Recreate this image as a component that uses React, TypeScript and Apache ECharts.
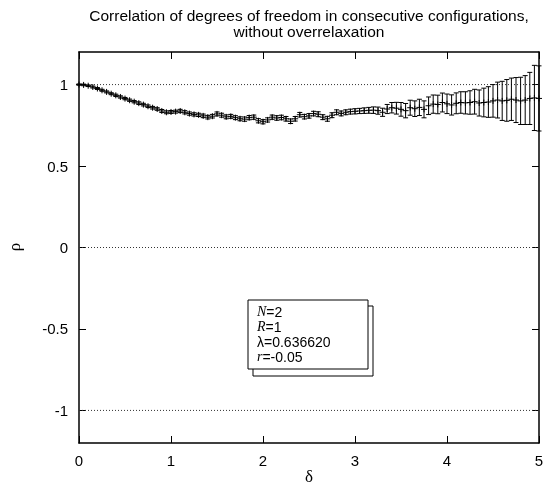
import React, { useEffect, useRef } from "react";
import * as echarts from "echarts";

const deltas: number[] = [
  0.0, 0.05, 0.1, 0.15, 0.2, 0.25, 0.3, 0.35, 0.4, 0.45,
  0.5, 0.55, 0.6, 0.65, 0.7, 0.75, 0.8, 0.85, 0.9, 0.95,
  1.0, 1.05, 1.1, 1.15, 1.2, 1.25, 1.3, 1.35, 1.4, 1.45,
  1.5, 1.55, 1.6, 1.65, 1.7, 1.75, 1.8, 1.85, 1.9, 1.95,
  2.0, 2.05, 2.1, 2.15, 2.2, 2.25, 2.3, 2.35, 2.4, 2.45,
  2.5, 2.55, 2.6, 2.65, 2.7, 2.75, 2.8, 2.85, 2.9, 2.95,
  3.0, 3.05, 3.1, 3.15, 3.2, 3.25, 3.3, 3.35, 3.4, 3.45,
  3.5, 3.55, 3.6, 3.65, 3.7, 3.75, 3.8, 3.85, 3.9, 3.95,
  4.0, 4.05, 4.1, 4.15, 4.2, 4.25, 4.3, 4.35, 4.4, 4.45,
  4.5, 4.55, 4.6, 4.65, 4.7, 4.75, 4.8, 4.85, 4.9, 4.95,
  5.0,
];

const rho: number[] = [
  1.0, 0.998, 0.993, 0.985, 0.976, 0.965, 0.955, 0.944, 0.934, 0.924,
  0.914, 0.904, 0.895, 0.886, 0.877, 0.867, 0.858, 0.85, 0.838, 0.83,
  0.832, 0.834, 0.838, 0.83, 0.822, 0.817, 0.814, 0.808, 0.8, 0.806,
  0.82, 0.812, 0.802, 0.805, 0.797, 0.79, 0.788, 0.797, 0.8, 0.778,
  0.772, 0.783, 0.8, 0.795, 0.798, 0.79, 0.775, 0.79, 0.815, 0.803,
  0.808, 0.822, 0.818, 0.8, 0.79, 0.812, 0.83, 0.823, 0.83, 0.834,
  0.836, 0.838, 0.84, 0.842, 0.843, 0.84, 0.83, 0.85, 0.858, 0.855,
  0.848, 0.84, 0.858, 0.852, 0.86, 0.848, 0.87, 0.88, 0.878, 0.89,
  0.882, 0.875, 0.885, 0.89, 0.888, 0.89, 0.895, 0.887, 0.89, 0.893,
  0.9, 0.905, 0.9, 0.903, 0.91, 0.905, 0.9, 0.905, 0.915, 0.918,
  0.915,
];

const rhoErr: number[] = [
  0.004, 0.005, 0.005, 0.006, 0.006, 0.006, 0.006, 0.006, 0.007, 0.007,
  0.007, 0.007, 0.007, 0.008, 0.008, 0.008, 0.008, 0.008, 0.009, 0.009,
  0.009, 0.009, 0.01, 0.01, 0.01, 0.01, 0.01, 0.011, 0.011, 0.011,
  0.012, 0.012, 0.012, 0.012, 0.012, 0.012, 0.013, 0.013, 0.013, 0.013,
  0.013, 0.013, 0.013, 0.014, 0.014, 0.014, 0.014, 0.014, 0.014, 0.014,
  0.014, 0.014, 0.015, 0.015, 0.015, 0.015, 0.015, 0.015, 0.015, 0.015,
  0.016, 0.016, 0.017, 0.018, 0.02, 0.022, 0.025, 0.028, 0.032, 0.036,
  0.042, 0.044, 0.046, 0.048, 0.05, 0.052, 0.054, 0.056, 0.057, 0.058,
  0.06, 0.062, 0.064, 0.066, 0.068, 0.072, 0.076, 0.08, 0.088, 0.094,
  0.1, 0.11, 0.12, 0.128, 0.13, 0.138, 0.145, 0.15, 0.16, 0.2,
  0.2,
];

const yTicks: number[] = [-1, -0.5, 0, 0.5, 1];
const refLines: number[] = [1, 0, -1];

const titleLines: string[] = [
  "Correlation of degrees of freedom in consecutive configurations,",
  "without overrelaxation",
];
const xName = "δ";
const yName = "ρ";

const legendLines: string[] = [
  "{i|N}=2",
  "{i|R}=1",
  "λ=0.636620",
  "{i|r}=-0.05",
];

const FONT = "'Liberation Sans', Arial, Helvetica, sans-serif";
const SERIF = "'Liberation Serif', 'Times New Roman', serif";

export default function App() {
  const ref = useRef<HTMLDivElement>(null);
  useEffect(() => {
    if (!ref.current) return;
    const chart = echarts.init(ref.current, null, { renderer: "svg" });
    const data = deltas.map((d, i) => [d, rho[i], rhoErr[i]]);

    const axisLine = { show: true, onZero: false, lineStyle: { color: "#000", width: 1.5 } };
    const tick = { show: true, inside: true, length: 7, lineStyle: { color: "#000", width: 1 } };

    const refSeries = refLines.map((v) => ({
      type: "line",
      data: [
        [0, v],
        [5, v],
      ],
      symbol: "none",
      silent: true,
      lineStyle: { color: "#333", width: 1, type: [1, 2] },
      z: 1,
    }));

    chart.setOption({
      animation: false,
      textStyle: { fontFamily: FONT },
      grid: { left: 79, right: 5, top: 52, bottom: 45, containLabel: false, outerBoundsMode: "none" },
      xAxis: [
        {
          type: "value",
          min: 0,
          max: 5,
          interval: 1,
          position: "bottom",
          axisLine,
          axisTick: tick,
          splitLine: { show: false },
          axisLabel: { color: "#000", fontSize: 15, margin: 10, fontFamily: FONT },
        },
        {
          type: "value",
          min: 0,
          max: 5,
          interval: 1,
          position: "top",
          axisLine,
          axisTick: tick,
          splitLine: { show: false },
          axisLabel: { show: false },
        },
      ],
      yAxis: [
        {
          type: "value",
          min: -1.2,
          max: 1.2,
          position: "left",
          axisLine,
          axisTick: { ...tick, customValues: yTicks },
          splitLine: { show: false },
          axisLabel: { color: "#000", fontSize: 15, margin: 11, customValues: yTicks, fontFamily: FONT },
        },
        {
          type: "value",
          min: -1.2,
          max: 1.2,
          position: "right",
          axisLine,
          axisTick: { ...tick, customValues: yTicks },
          splitLine: { show: false },
          axisLabel: { show: false, customValues: yTicks },
        },
      ],
      graphic: [
        {
          type: "text",
          x: 309,
          y: 8,
          style: {
            text: titleLines.join("\n"),
            align: "center",
            fontSize: 15.5,
            lineHeight: 15.5,
            fontFamily: FONT,
            fill: "#000",
          },
        },
        {
          type: "text",
          x: 309,
          y: 476,
          style: {
            text: xName,
            align: "center",
            verticalAlign: "middle",
            fontSize: 17,
            fontFamily: SERIF,
            fill: "#000",
          },
        },
        {
          type: "text",
          x: 14,
          y: 247,
          rotation: Math.PI / 2,
          style: {
            text: yName,
            align: "center",
            verticalAlign: "middle",
            fontSize: 17,
            fontFamily: SERIF,
            fill: "#000",
          },
        },
        {
          type: "rect",
          shape: { x: 253, y: 306, width: 120, height: 70 },
          style: { fill: "#fff", stroke: "#000", lineWidth: 1 },
          z: 100,
        },
        {
          type: "rect",
          shape: { x: 248, y: 300, width: 120, height: 69 },
          style: { fill: "#fff", stroke: "#000", lineWidth: 1 },
          z: 101,
        },
        {
          type: "text",
          x: 257,
          y: 304,
          z: 102,
          style: {
            text: legendLines.join("\n"),
            fontSize: 14,
            lineHeight: 15,
            fontFamily: FONT,
            fill: "#000",
            rich: {
              i: {
                fontStyle: "italic",
                fontFamily: SERIF,
                fontSize: 14,
                lineHeight: 15,
              },
            },
          },
        },
      ],
      series: [
        ...refSeries,
        {
          type: "custom",
          data,
          z: 5,
          renderItem: (params: any, api: any) => {
            const x = api.value(0);
            const y = api.value(1);
            const e = api.value(2);
            const p = api.coord([x, y]);
            const t = api.coord([x, y + e]);
            const b = api.coord([x, y - e]);
            const cap = 2.5;
            const m = 3;
            const st = { stroke: "#000", lineWidth: 1 };
            return {
              type: "group",
              children: [
                { type: "line", shape: { x1: p[0], y1: t[1], x2: p[0], y2: b[1] }, style: st },
                { type: "line", shape: { x1: p[0] - cap, y1: t[1], x2: p[0] + cap, y2: t[1] }, style: st },
                { type: "line", shape: { x1: p[0] - cap, y1: b[1], x2: p[0] + cap, y2: b[1] }, style: st },
                { type: "line", shape: { x1: p[0] - m, y1: p[1], x2: p[0] + m, y2: p[1] }, style: st },
                { type: "line", shape: { x1: p[0], y1: p[1] - m, x2: p[0], y2: p[1] + m }, style: st },
              ],
            };
          },
        },
      ],
    });
    return () => chart.dispose();
  }, []);
  return <div ref={ref} style={{ position: "fixed", left: 0, top: 0, width: 544, height: 488 }} />;
}
